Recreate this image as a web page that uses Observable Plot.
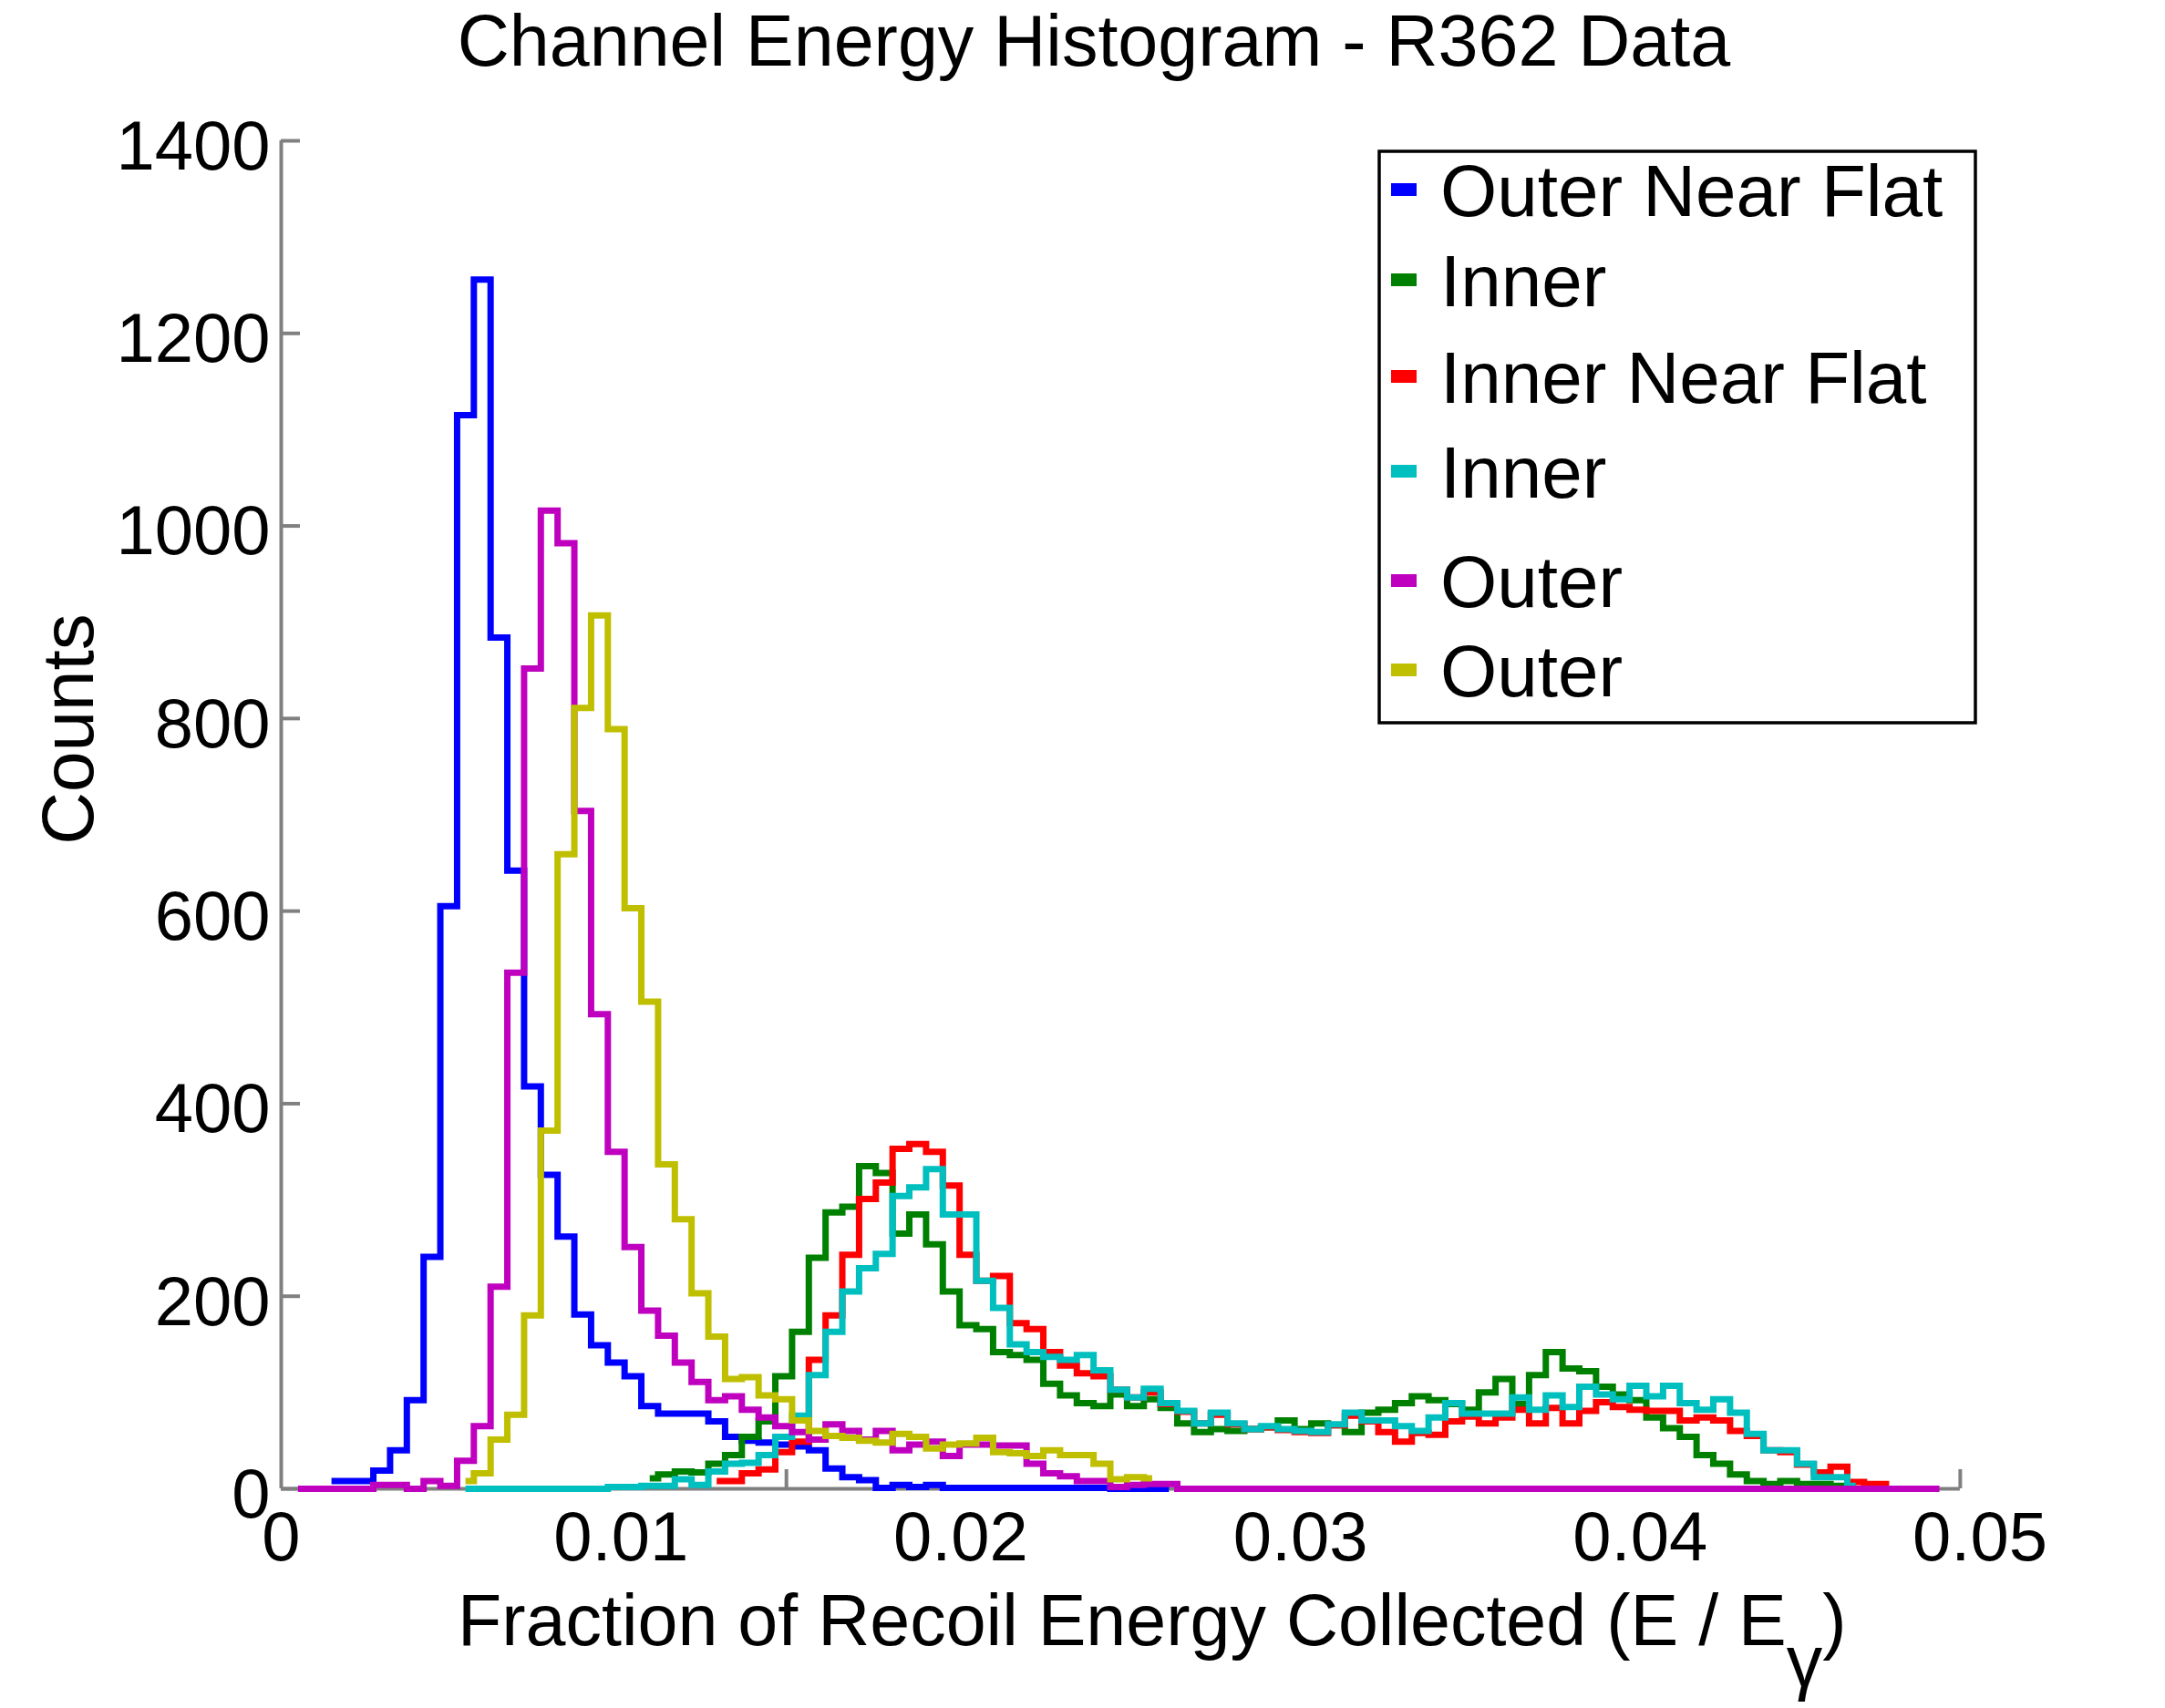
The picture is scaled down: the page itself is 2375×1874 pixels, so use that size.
<!DOCTYPE html>
<html>
<head>
<meta charset="utf-8">
<script src="https://cdn.jsdelivr.net/npm/d3@7"></script>
<script src="https://cdn.jsdelivr.net/npm/@observablehq/plot@0.6"></script>
<style>
  html, body { margin: 0; padding: 0; background: #ffffff; }
  #chart { width: 2375px; height: 1874px; }
  #chart svg { display: block; }
</style>
</head>
<body>
<div id="chart"></div>
<script>
// ---------------- DATA ----------------
const chartTitle = "Channel Energy Histogram - R362 Data";
const yTitle = "Counts";
const xTitleMain = "Fraction of Recoil Energy Collected (E / E";
const xTitleSub = "γ";
const xTitleEnd = ")";

const seriesLabels = ["Outer Near Flat", "Inner", "Inner Near Flat", "Inner", "Outer", "Outer"];

// histogram bin width (E / Eγ) and first bin index of every series
const binWidth = 0.000493;
const firstBin = [3, 22, 26, 11, 1, 11];

// counts per bin
const outerNearFlat = [
  8, 8, 8, 19, 40, 92, 241, 605, 1115, 1256,
  884, 642, 418, 326, 262, 181, 149, 131, 117, 86,
  78, 78, 78, 70, 54, 50, 48, 46, 44, 40,
  21, 12, 9, 1, 4, 2, 4, 1, 1, 1,
  1, 1, 1, 1, 1, 1, 1, 0, 0, 0, 0
];
const innerA = [
  11, 15, 18, 17, 26, 35, 54, 70, 117, 163,
  240, 287, 293, 335, 328, 265, 285, 254, 205, 170,
  166, 142, 139, 134, 109, 97, 89, 86, 98, 86,
  93, 84, 68, 59, 62, 60, 62, 64, 71, 62,
  68, 66, 59, 79, 82, 89, 96, 92, 88, 82,
  100, 114, 88, 118, 142, 125, 122, 106, 98, 92,
  74, 63, 54, 35, 26, 15, 8, 5, 8, 5,
  5, 3, 2
];
const innerNearFlat = [
  8, 8, 16, 20, 38, 49, 134, 180, 243, 301,
  318, 353, 358, 350, 315, 243, 216, 221, 172, 166,
  142, 128, 120, 117, 103, 95, 100, 88, 80, 68,
  77, 67, 62, 64, 61, 59, 58, 66, 76, 70,
  59, 49, 58, 56, 70, 75, 68, 74, 82, 68,
  84, 68, 81, 90, 85, 82, 81, 81, 71, 74,
  71, 60, 55, 40, 38, 25, 17, 23, 7, 5,
  5
];
const innerB = [
  0, 0, 0, 0, 0, 0, 0, 0, 0, 2,
  2, 3, 3, 10, 4, 18, 26, 27, 35, 54,
  76, 118, 163, 205, 229, 244, 304, 313, 332, 285,
  285, 216, 188, 150, 142, 137, 134, 139, 123, 103,
  95, 104, 89, 81, 68, 79, 68, 62, 65, 62,
  60, 59, 67, 79, 71, 71, 65, 60, 74, 89,
  78, 78, 78, 95, 82, 97, 85, 106, 98, 93,
  107, 96, 107, 89, 82, 93, 79, 57, 40, 40,
  26, 12, 12, 3
];
const outerA = [
  0, 0, 0, 0, 0, 4, 4, 0, 8, 3,
  29, 65, 210, 536, 852, 1016, 982, 704, 493, 350,
  251, 185, 159, 131, 111, 92, 96, 82, 74, 65,
  59, 51, 67, 60, 51, 60, 40, 46, 49, 34,
  46, 46, 45, 45, 26, 16, 13, 8, 8, 2,
  4, 5, 5, 0, 0, 0, 0, 0, 0, 0,
  0, 0, 0, 0, 0, 0, 0, 0, 0, 0,
  0, 0, 0, 0, 0, 0, 0, 0, 0, 0,
  0, 0, 0, 0, 0, 0, 0, 0, 0, 0,
  0, 0, 0, 0, 0, 0, 0, 0, 0
];
const outerB = [
  8, 16, 51, 77, 180, 372, 659, 811, 907, 789,
  603, 506, 337, 280, 203, 158, 114, 116, 97, 93,
  71, 60, 55, 53, 50, 48, 57, 54, 42, 46,
  47, 53, 38, 37, 34, 40, 35, 35, 26, 10,
  12, 11
];

const seriesCounts = [outerNearFlat, innerA, innerNearFlat, innerB, outerA, outerB];

// axes
const xDomain = [0, 0.05];
const yDomain = [0, 1400];
const xTickLabels = [0, 0.01, 0.02, 0.03, 0.04, 0.05];
const yTicks = [0, 200, 400, 600, 800, 1000, 1200, 1400];
const xAxisEnd = 0.04942;
const xMarkTicks = [0.01487, 0.04942];

// ---------------- STYLE / LAYOUT ----------------
const seriesColors = ["#0000ff", "#008000", "#ff0000", "#00bfbf", "#bf00bf", "#bfbf00"];
const axisGray = "#808080";
const font = "'Liberation Sans', Arial, sans-serif";
const W = 2375, H = 1874;
const margin = {left: 308, right: 203.5, top: 154, bottom: 241};
const frameW = W - margin.left - margin.right;
const frameH = H - margin.top - margin.bottom;
const tickLen = 21;
const countsPerPx = (yDomain[1] - yDomain[0]) / frameH;

// ---------------- BUILD ----------------
const seriesRows = seriesCounts.map((arr, i) =>
  arr.map((c, j) => ({bin: (firstBin[i] + j) * binWidth, count: c}))
);

const lineMarks = seriesRows.map((rows, i) =>
  Plot.line(rows, {
    x: "bin", y: "count", curve: "step",
    stroke: seriesColors[i], strokeWidth: 7,
    strokeLinejoin: "miter", strokeLinecap: "butt", strokeMiterlimit: 4
  })
);

const chart = Plot.plot({
  width: W, height: H,
  marginLeft: margin.left, marginRight: margin.right,
  marginTop: margin.top, marginBottom: margin.bottom,
  style: {fontFamily: font, fontSize: "76px", background: "#ffffff", color: "#000000"},
  x: {type: "linear", domain: xDomain, label: null},
  y: {type: "linear", domain: yDomain, label: null},
  marks: [
    Plot.ruleY([0], {x1: 0, x2: xAxisEnd, stroke: axisGray, strokeWidth: 4}),
    Plot.ruleX([0], {y1: yDomain[0], y2: yDomain[1], stroke: axisGray, strokeWidth: 4}),
    Plot.tickY(yTicks, {y: d => d, stroke: axisGray, strokeWidth: 4, insetRight: frameW - tickLen}),
    Plot.ruleX(xMarkTicks, {x: d => d, y1: 0, y2: tickLen * countsPerPx, stroke: axisGray, strokeWidth: 4}),
    ...lineMarks,
    Plot.axisX({ticks: xTickLabels, tickSize: 0, tickPadding: 25, fontSize: 76, label: null,
                tickFormat: d => String(d), fill: "#000000"}),
    Plot.axisY({ticks: yTicks, tickSize: 0, tickPadding: 12, fontSize: 76, dy: 7, label: null,
                tickFormat: d => String(d), fill: "#000000"})
  ]
});
document.getElementById("chart").appendChild(chart);

const svg = d3.select(chart);

// title
svg.append("text")
  .attr("x", 1200).attr("y", 72)
  .attr("text-anchor", "middle")
  .attr("font-family", font).attr("font-size", 79).attr("fill", "#000")
  .text(chartTitle);

// y title
svg.append("text")
  .attr("transform", "translate(102,800) rotate(-90)")
  .attr("text-anchor", "middle")
  .attr("font-family", font).attr("font-size", 80).attr("fill", "#000")
  .text(yTitle);

// x title with subscript
const xt = svg.append("text")
  .attr("x", 502).attr("y", 1805)
  .attr("text-anchor", "start")
  .attr("font-family", font).attr("font-size", 79).attr("fill", "#000");
xt.append("tspan").text(xTitleMain);
xt.append("tspan").attr("dy", 45).text(xTitleSub);
xt.append("tspan").attr("dy", -45).text(xTitleEnd);

// legend
const legend = svg.append("g").attr("text-anchor", "start");
legend.append("rect")
  .attr("x", 1513).attr("y", 166).attr("width", 654).attr("height", 627)
  .attr("fill", "#ffffff").attr("stroke", "#000000").attr("stroke-width", 3.5);
const legendBaselines = [237, 336, 442, 546, 666, 764];
seriesLabels.forEach((label, i) => {
  const by = legendBaselines[i];
  legend.append("rect")
    .attr("x", 1526).attr("y", by - 36).attr("width", 28).attr("height", 14)
    .attr("fill", seriesColors[i]);
  legend.append("text")
    .attr("x", 1580).attr("y", by)
    .attr("text-anchor", "start")
    .attr("font-family", font).attr("font-size", 80).attr("fill", "#000")
    .text(label);
});
</script>
</body>
</html>
